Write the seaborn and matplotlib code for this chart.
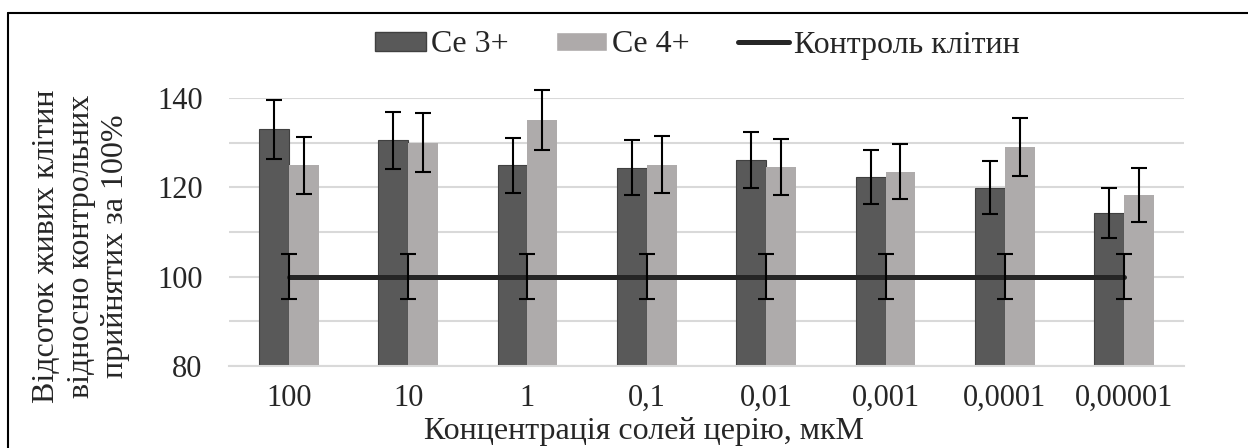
import pandas as pd
import numpy as np
import matplotlib
matplotlib.use("Agg")
import matplotlib.pyplot as plt
import seaborn as sns
from matplotlib.patches import Patch
from matplotlib.lines import Line2D

# дані з графіка
konc = ["100", "10", "1", "0,1", "0,01", "0,001", "0,0001", "0,00001"]
ce3 = [133.0, 130.5, 124.9, 124.4, 126.1, 122.3, 119.9, 114.2]
ce3_err = [6.6, 6.4, 6.1, 6.2, 6.3, 6.1, 5.9, 5.6]
ce4 = [124.9, 130.0, 135.1, 125.1, 124.6, 123.5, 129.1, 118.3]
ce4_err = [6.3, 6.6, 6.8, 6.4, 6.3, 6.2, 6.5, 6.0]
kontrol = [100, 100, 100, 100, 100, 100, 100, 100]
kontrol_err = [5, 5, 5, 5, 5, 5, 5, 5]

# кольори
c_ce3 = "#595959"
c_ce4 = "#AEAAAA"
c_line = "#262626"
c_grid = "#D9D9D9"

sns.set_style("white")
plt.rcParams["font.family"] = ["Liberation Serif", "DejaVu Serif"]

df = pd.DataFrame({
    "konc": konc * 2,
    "value": ce3 + ce4,
    "ion": ["Ce 3+"] * len(konc) + ["Ce 4+"] * len(konc),
})

fig = plt.figure(figsize=(12.48, 4.48), dpi=100)
ax = fig.add_axes([229 / 1248, 1 - 366 / 448, (1184 - 229) / 1248, (366 - 98) / 448])

sns.barplot(data=df, x="konc", y="value", hue="ion", palette=[c_ce3, c_ce4],
            width=0.5, errorbar=None, legend=False, ax=ax, zorder=2)

# краї стовпчиків
for b in ax.containers[0]:
    b.set_edgecolor("#404040")
    b.set_linewidth(0.8)
for b in ax.containers[1]:
    b.set_linewidth(0)

# похибки
for cont, err in zip(ax.containers, [ce3_err, ce4_err]):
    xs = [b.get_x() + b.get_width() / 2 for b in cont]
    ys = [b.get_height() for b in cont]
    ax.errorbar(xs, ys, yerr=err, fmt="none", ecolor="black", elinewidth=1.5,
                capsize=6, capthick=1.5, zorder=4, clip_on=False)

# контроль
xk = np.arange(len(konc))
ax.plot(xk, kontrol, color=c_line, lw=3.6, zorder=3, solid_capstyle="round")
ax.errorbar(xk, kontrol, yerr=kontrol_err, fmt="none", ecolor="black",
            elinewidth=1.5, capsize=6, capthick=1.5, zorder=4)

ax.set_ylim(80, 140)
ax.set_xlim(-0.5, len(konc) - 0.5)
ax.set_yticks([80, 100, 120, 140])
ax.set_yticks([90, 110, 130], minor=True)
ax.yaxis.grid(True, which="both", color=c_grid, lw=1.5, zorder=0)
ax.set_axisbelow(True)
for s in ["top", "right", "left"]:
    ax.spines[s].set_visible(False)
ax.spines["bottom"].set_color(c_grid)
ax.spines["bottom"].set_linewidth(1.5)
ax.set_xticks(np.arange(-0.5, len(konc), 1.0), minor=True)
ax.tick_params(axis="x", which="minor", length=7, width=1.5, color=c_grid, direction="out")
ax.tick_params(axis="x", which="major", length=0, pad=13, labelsize=22)
ax.tick_params(axis="y", which="both", length=0, pad=19, labelsize=22)
ax.set_xlabel("")
ax.set_ylabel("")

fig.text(81 / 1248, 1 - 246 / 448,
         "Відсоток живих клітин\nвідносно контрольних\nприйнятих за 100%",
         rotation=90, ha="center", va="center", fontsize=23, linespacing=1.25)
fig.text(644 / 1248, 1 - 431 / 448, "Концентрація солей церію, мкМ",
         ha="center", va="center", fontsize=23)

handles = [Patch(facecolor=c_ce3, edgecolor="#404040"), Patch(facecolor=c_ce4),
           Line2D([0], [0], color=c_line, lw=3.6)]
fig.legend(handles, ["Ce 3+", "Ce 4+", "Контроль клітин"], loc="center",
           bbox_to_anchor=(697 / 1248, 1 - 45 / 448), ncol=3, frameon=False,
           fontsize=23, handlelength=1.6, handleheight=0.55, handletextpad=0.15,
           columnspacing=1.5)

# рамка
fig.add_artist(Line2D([8 / 1248, 8 / 1248], [0, 1 - 13 / 448], color="black", lw=1.5))
fig.add_artist(Line2D([8 / 1248, 1], [1 - 13 / 448, 1 - 13 / 448], color="black", lw=1.5))

fig.savefig("out.png", dpi=100)
